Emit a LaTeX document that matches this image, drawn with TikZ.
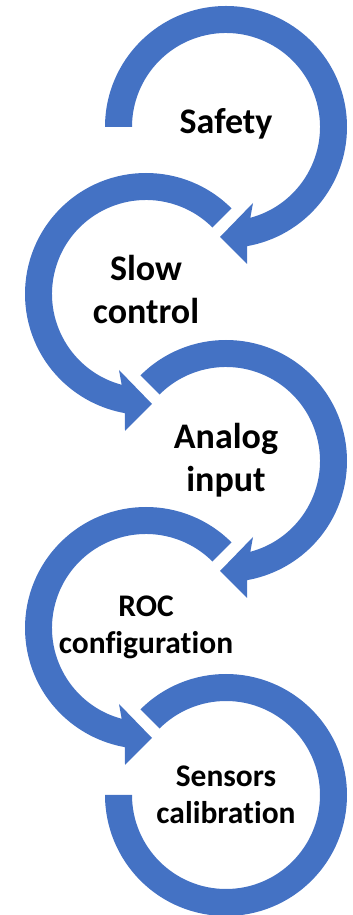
\documentclass[tikz,border=0pt]{standalone}
\usepackage{fontspec}
\setmainfont{Carlito}[Ligatures=NoCommon]
\definecolor{ringblue}{HTML}{4472C4}

% clockwise ring ending in an arrowhead at the bottom; #1 centre, #2 start angle
\newcommand\ringcw[2]{%
  \fill[ring] ([shift={(#1)}]#2:121) arc[start angle=#2, end angle=-80, radius=121]
    -- ([shift={(#1)}]21,-137) -- ([shift={(#1)}]-6,-110) -- ([shift={(#1)}]27,-76)
    -- ([shift={(#1)}]-75:94) arc[start angle=-75, end angle=#2, radius=94] -- cycle;}
% counter-clockwise ring ending in an arrowhead at the bottom
\newcommand\ringccw[2]{%
  \fill[ring] ([shift={(#1)}]#2:121) arc[start angle=#2, end angle=260, radius=121]
    -- ([shift={(#1)}]-21,-137) -- ([shift={(#1)}]6,-110) -- ([shift={(#1)}]-27,-76)
    -- ([shift={(#1)}]255:94) arc[start angle=255, end angle=#2, radius=94] -- cycle;}

\begin{document}
\begin{tikzpicture}[x=0.75pt, y=0.75pt,
  ring/.style={fill=ringblue},
  biglabel/.style={font=\bfseries\fontsize{27}{32.25}\selectfont, align=center, inner sep=0pt},
  smalllabel/.style={font=\bfseries\fontsize{23.6}{27.75}\selectfont, align=center, inner sep=0pt}]
\useasboundingbox (0,0) rectangle (353,915);

\coordinate (c1) at (226,788);
\coordinate (c2) at (146,621);
\coordinate (c3) at (226,454);
\coordinate (c4) at (146,287);
\coordinate (c5) at (226,120);

\ringcw{c1}{180}
\ringccw{c2}{45}
\ringcw{c3}{135}
\ringccw{c4}{45}
% last ring closes without an arrowhead
\fill[ring] ([shift={(c5)}]135:121) arc[start angle=135, end angle=-180, radius=121]
  -- ([shift={(c5)}]180:94) arc[start angle=-180, end angle=135, radius=94] -- cycle;

\node[biglabel] (t1) at (226,791) {Safety};
\node[biglabel] (t2) at (146,625) {Slow\\control};
\node[biglabel] (t3) at (226,455) {Analog\\input};
\node[smalllabel] (t4) at (146,288) {ROC\\configuration};
\node[smalllabel] (t5) at (226,120) {Sensors\\calibration};
\end{tikzpicture}
\end{document}
